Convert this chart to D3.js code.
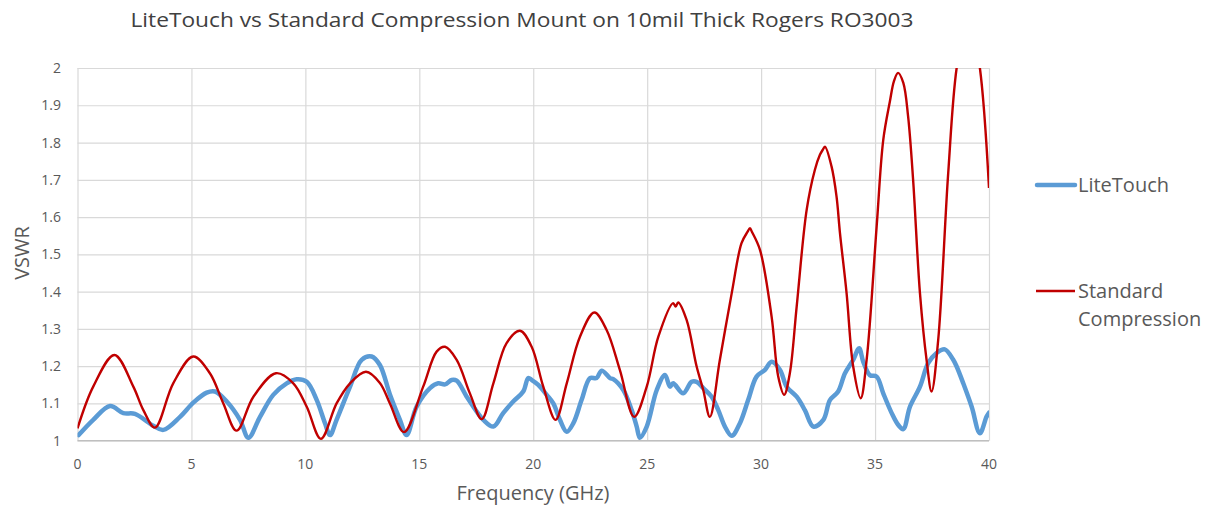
<!DOCTYPE html>
<html>
<head>
<meta charset="utf-8">
<script src="https://cdn.jsdelivr.net/npm/d3@7"></script>
<style>
  body { margin: 0; background: #fff; }
  svg { display: block; font-family: "Open Sans", sans-serif; }
  .grid line { stroke: #d9d9d9; stroke-width: 1.2; }
  .grid path { display: none; }
  .tick-label { fill: #595959; font-size: 14px; }
</style>
</head>
<body>
<svg id="chart" width="1223" height="508"></svg>
<script>
const chartTitle = "LiteTouch vs Standard Compression Mount on 10mil Thick Rogers RO3003";
const xTicks = [0, 5, 10, 15, 20, 25, 30, 35, 40];
const yTicks = [1, 1.1, 1.2, 1.3, 1.4, 1.5, 1.6, 1.7, 1.8, 1.9, 2];
const seriesNames = ["LiteTouch", "Standard Compression"];

const liteFreq = [0.05, 0.69, 1.43, 2.01, 2.52, 3.33, 3.77, 4.5, 5.08, 5.67, 6.03, 6.55, 7.13, 7.5,
  8.01, 8.59, 9.18, 9.62, 10.06, 10.5, 10.86, 11.08, 11.37, 11.96, 12.47, 12.91, 13.27, 13.71,
  14.15, 14.44, 14.88, 15.47, 15.83, 16.13, 16.42, 16.64, 17.08, 17.52, 17.81, 18.25, 18.68,
  19.12, 19.56, 19.78, 19.93, 20.22, 20.59, 20.88, 21.17, 21.47, 21.76, 22.12, 22.49, 22.78,
  23.0, 23.37, 23.51, 23.95, 24.32, 24.54, 24.68, 24.98, 25.42, 25.78, 26.0, 26.14, 26.58,
  26.95, 27.17, 27.46, 27.83, 28.12, 28.41, 28.71, 29.07, 29.43, 29.8, 30.17, 30.46, 30.83,
  31.12, 31.56, 31.92, 32.29, 32.73, 33.02, 33.38, 33.68, 34.04, 34.3, 34.48, 34.77, 35.07,
  35.36, 35.73, 36.02, 36.24, 36.53, 36.97, 37.33, 37.7, 38.06, 38.43, 38.58, 38.87, 39.24,
  39.6, 39.89, 40.0];
const liteVswr = [1.015, 1.056, 1.093, 1.074, 1.072, 1.04, 1.029, 1.064, 1.102, 1.129, 1.132, 1.105, 1.056, 1.008,
  1.064, 1.123, 1.154, 1.165, 1.158, 1.109, 1.047, 1.015, 1.056, 1.145, 1.217, 1.226, 1.203, 1.124,
  1.056, 1.015, 1.091, 1.141, 1.154, 1.151, 1.163, 1.161, 1.118, 1.078, 1.056, 1.038, 1.074,
  1.105, 1.132, 1.168, 1.163, 1.15, 1.123, 1.1, 1.056, 1.024, 1.047, 1.109, 1.168, 1.168,
  1.188, 1.168, 1.165, 1.136, 1.082, 1.038, 1.008, 1.038, 1.136, 1.176, 1.145, 1.154, 1.127,
  1.158, 1.158, 1.141, 1.118, 1.082, 1.038, 1.013, 1.047, 1.109, 1.172, 1.19, 1.212, 1.19,
  1.145, 1.118, 1.082, 1.038, 1.056, 1.109, 1.132, 1.181, 1.217, 1.248, 1.212, 1.176, 1.172,
  1.127, 1.074, 1.042, 1.031, 1.091, 1.145, 1.208, 1.235, 1.245, 1.217, 1.199, 1.154, 1.091,
  1.02, 1.064, 1.075];

const stdFreq = [0, 0.69, 1.62, 2.45, 2.89, 3.4, 4.2, 5.08, 5.81, 6.4, 6.98, 7.72, 8.71, 9.47, 10.06,
  10.68, 11.37, 11.96, 12.66, 13.27, 13.71, 14.33, 15.17, 15.76, 16.13, 16.64, 17.22, 17.74,
  18.25, 18.83, 19.42, 19.93, 20.44, 20.98, 21.47, 22.05, 22.68, 23.22, 23.8, 24.43, 24.98,
  25.49, 26.14, 26.25, 26.36, 26.73, 27.17, 27.46, 27.75, 28.19, 28.71, 29.14, 29.4, 29.51, 29.6,
  29.95, 30.46, 30.75, 31.01, 31.26, 31.56, 32.0, 32.36, 32.58, 32.7, 32.8, 33.09, 33.31,
  33.46, 33.75, 34.04, 34.37, 34.63, 35.07, 35.36, 35.65, 35.83, 36.01, 36.24, 36.45,
  36.67, 36.97, 37.26, 37.48, 37.77, 38.21, 38.58, 39.1, 39.6, 40.0];
const stdVswr = [1.033, 1.145, 1.23, 1.145, 1.082, 1.035, 1.154, 1.226, 1.181, 1.1, 1.027, 1.118, 1.181, 1.154, 1.091,
  1.005, 1.1, 1.154, 1.185, 1.155, 1.1, 1.023, 1.145, 1.239, 1.252, 1.217, 1.127, 1.058,
  1.154, 1.262, 1.295, 1.252, 1.145, 1.056, 1.154, 1.279, 1.344, 1.297, 1.19, 1.064, 1.145,
  1.279, 1.369, 1.36, 1.371, 1.324, 1.199, 1.136, 1.064, 1.217, 1.396, 1.53, 1.56, 1.57, 1.56,
  1.512, 1.333, 1.172, 1.123, 1.181, 1.36, 1.62, 1.727, 1.767, 1.78, 1.789, 1.736, 1.655,
  1.557, 1.396, 1.199, 1.114, 1.217, 1.575, 1.807, 1.91, 1.965, 1.987, 1.96, 1.87,
  1.7, 1.396, 1.217, 1.132, 1.27, 1.718, 2.0, 2.16, 2.0, 1.678];

const svg = d3.select("#chart");
const plot = { left: 77.5, right: 989, top: 68, bottom: 440.7 };

const x = d3.scaleLinear().domain([0, 40]).range([plot.left, plot.right]);
const y = d3.scaleLinear().domain([1, 2]).range([plot.bottom, plot.top]);

svg.append("defs").append("clipPath").attr("id", "plot-clip")
  .append("rect")
  .attr("x", plot.left).attr("y", plot.top)
  .attr("width", plot.right - plot.left).attr("height", plot.bottom - plot.top);

// gridlines
svg.append("g").attr("class", "grid")
  .attr("transform", `translate(${plot.left},0)`)
  .call(d3.axisLeft(y).tickValues(yTicks).tickSize(-(plot.right - plot.left)).tickFormat(""));
svg.append("g").attr("class", "grid")
  .attr("transform", `translate(0,${plot.bottom})`)
  .call(d3.axisBottom(x).tickValues(xTicks).tickSize(-(plot.bottom - plot.top)).tickFormat(""));

// bottom axis line
svg.append("line")
  .attr("x1", plot.left).attr("x2", plot.right)
  .attr("y1", plot.bottom).attr("y2", plot.bottom)
  .attr("stroke", "#bfbfbf").attr("stroke-width", 1.3);

// tick labels
svg.append("g").selectAll("text").data(yTicks).join("text")
  .attr("class", "tick-label")
  .attr("x", 61).attr("y", (d) => y(d) + 5)
  .attr("text-anchor", "end")
  .text((d) => d3.format("~g")(d));
svg.append("g").selectAll("text").data(xTicks).join("text")
  .attr("class", "tick-label")
  .attr("x", (d) => x(d)).attr("y", 469)
  .attr("text-anchor", "middle")
  .text((d) => d);

const line = d3.line()
  .x((d) => x(d[0]))
  .y((d) => y(d[1]))
  .curve(d3.curveCatmullRom.alpha(0.5));

const liteData = liteFreq.map((f, i) => [f, liteVswr[i]]);
const stdData = stdFreq.map((f, i) => [f, stdVswr[i]]);

const lines = svg.append("g").attr("clip-path", "url(#plot-clip)");
lines.append("path").datum(liteData)
  .attr("d", line).attr("fill", "none")
  .attr("stroke", "#5b9bd5").attr("stroke-width", 4.5)
  .attr("stroke-linejoin", "round").attr("stroke-linecap", "round");
lines.append("path").datum(stdData)
  .attr("d", line).attr("fill", "none")
  .attr("stroke", "#c00000").attr("stroke-width", 2.4)
  .attr("stroke-linejoin", "round");

// titles
svg.append("text")
  .attr("x", 522).attr("y", 27)
  .attr("text-anchor", "middle")
  .attr("fill", "#404040").attr("font-size", 20)
  .attr("textLength", 783).attr("lengthAdjust", "spacingAndGlyphs")
  .text(chartTitle);
svg.append("text")
  .attr("x", 533).attr("y", 500)
  .attr("text-anchor", "middle")
  .attr("fill", "#595959").attr("font-size", 20)
  .text("Frequency (GHz)");
svg.append("text")
  .attr("transform", "translate(29,253) rotate(-90)")
  .attr("text-anchor", "middle")
  .attr("fill", "#595959").attr("font-size", 20)
  .text("VSWR");

// legend
const legend = svg.append("g");
legend.append("line")
  .attr("x1", 1037).attr("x2", 1075).attr("y1", 185).attr("y2", 185)
  .attr("stroke", "#5b9bd5").attr("stroke-width", 4.5).attr("stroke-linecap", "round");
legend.append("text")
  .attr("x", 1078).attr("y", 192)
  .attr("fill", "#595959").attr("font-size", 20)
  .text(seriesNames[0]);
legend.append("line")
  .attr("x1", 1036).attr("x2", 1075).attr("y1", 291).attr("y2", 291)
  .attr("stroke", "#c00000").attr("stroke-width", 2.4);
legend.append("text")
  .attr("x", 1078).attr("y", 298)
  .attr("fill", "#595959").attr("font-size", 20)
  .text("Standard");
legend.append("text")
  .attr("x", 1078).attr("y", 326)
  .attr("fill", "#595959").attr("font-size", 20)
  .text("Compression");
</script>
</body>
</html>
